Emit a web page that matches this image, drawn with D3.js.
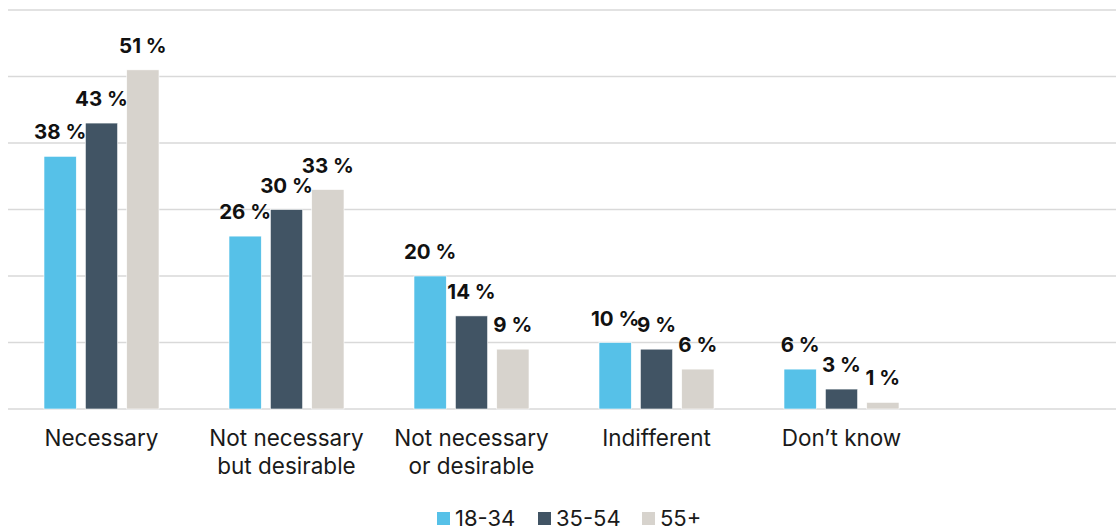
<!DOCTYPE html>
<html>
<head>
<meta charset="utf-8">
<script src="https://cdn.jsdelivr.net/npm/d3@7"></script>
<style>
  html, body { margin: 0; padding: 0; background: #fff; }
  svg { display: block; }
  text { font-family: Inter, "Liberation Sans", Arial, sans-serif; }
</style>
</head>
<body>
<svg id="chart" width="1116" height="532"></svg>
<script>
// Survey answers by age group (percent of respondents)
const categories = [["Necessary"], ["Not necessary", "but desirable"], ["Not necessary", "or desirable"], ["Indifferent"], ["Don\u2019t know"]];
const seriesNames = ["18-34", "35-54", "55+"];
const age18to34 = [38, 26, 20, 10, 6];
const age35to54 = [43, 30, 14, 9, 3];
const age55plus = [51, 33, 9, 6, 1];
const yTicks = [0, 10, 20, 30, 40, 50, 60];

const seriesValues = [age18to34, age35to54, age55plus];
const colors = ["#56c1e8", "#415464", "#d7d3cd"];

const svg = d3.select("#chart");
const chartW = 1116;
const plotLeft = 9, plotRight = 1119, plotTop = 10, plotBottom = 409;

// Six category slots; the last one stays empty
const slots = d3.range(6);
const x = d3.scaleBand().domain(slots).range([plotLeft, plotRight]).paddingInner(0).paddingOuter(0);
const xs = d3.scaleBand().domain(seriesNames)
  .range([35, x.bandwidth() - 35]).paddingInner(0.22).paddingOuter(0);
const y = d3.scaleLinear().domain([0, 60]).range([plotBottom, plotTop]);

// Horizontal gridlines
svg.append("g").selectAll("line").data(yTicks).join("line")
  .attr("x1", 8).attr("x2", chartW)
  .attr("y1", d => y(d)).attr("y2", d => y(d))
  .attr("stroke", "#d9d9d9").attr("stroke-width", 1.5);

const rows = categories.map((c, i) => ({
  index: i, label: c,
  values: seriesNames.map((s, j) => ({ series: s, j, value: seriesValues[j][i] }))
}));

const groups = svg.append("g").selectAll("g").data(rows).join("g")
  .attr("transform", d => `translate(${x(d.index)},0)`);

groups.selectAll("rect").data(d => d.values).join("rect")
  .attr("x", d => xs(d.series))
  .attr("width", xs.bandwidth())
  .attr("y", d => y(d.value))
  .attr("height", d => y(0) - y(d.value))
  .attr("fill", d => colors[d.j])
  .attr("stroke", "#fff").attr("stroke-width", 0.6);

// Value labels above each bar
groups.selectAll("text.val").data(d => d.values).join("text")
  .attr("class", "val")
  .attr("x", d => xs(d.series) + xs.bandwidth() / 2)
  .attr("y", d => y(d.value) - 17)
  .attr("text-anchor", "middle")
  .attr("font-size", 20.5).attr("font-weight", 700).attr("fill", "#111")
  .text(d => `${d.value} %`);

// Category labels under the axis
groups.append("text")
  .attr("x", x.bandwidth() / 2)
  .attr("y", 446)
  .attr("text-anchor", "middle")
  .attr("font-size", 22.5).attr("fill", "#1a1a1a")
  .selectAll("tspan").data(d => d.label).join("tspan")
  .attr("x", x.bandwidth() / 2)
  .attr("dy", (d, i) => i === 0 ? 0 : 27.6)
  .text(d => d);

// Legend
const legendX = [437, 538, 642];
const legend = svg.append("g").selectAll("g").data(seriesNames).join("g")
  .attr("transform", (d, i) => `translate(${legendX[i]},0)`);
legend.append("rect").attr("x", 0).attr("y", 512).attr("width", 13).attr("height", 13)
  .attr("fill", (d, i) => colors[i]);
legend.append("text").attr("x", 18).attr("y", 526)
  .attr("font-size", 22).attr("fill", "#1a1a1a").text(d => d);
</script>
</body>
</html>
